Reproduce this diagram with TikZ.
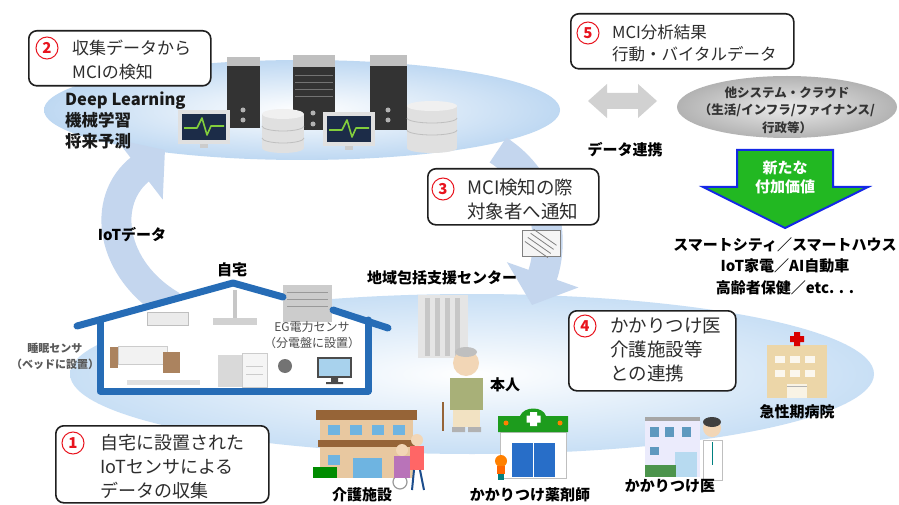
\documentclass[tikz,border=0pt]{standalone}
\usepackage{fontspec}
\setmainfont{Noto Sans CJK JP}
\usetikzlibrary{arrows.meta,shapes.geometric}
\definecolor{cloudblue}{RGB}{190,216,242}
\definecolor{groundblue}{RGB}{200,223,245}
\definecolor{flowblue}{RGB}{196,214,238}
\definecolor{roofblue}{RGB}{38,108,182}
\definecolor{inkgray}{RGB}{45,45,45}
\definecolor{leafgreen}{RGB}{34,184,34}
\definecolor{rimblue}{RGB}{20,40,230}
\definecolor{numred}{RGB}{232,20,30}
\definecolor{screennavy}{RGB}{28,44,72}
\definecolor{wavegreen}{RGB}{130,205,60}
\definecolor{skin}{RGB}{242,214,182}
\definecolor{olive}{RGB}{168,176,120}
\definecolor{brick}{RGB}{150,100,55}
\definecolor{tan}{RGB}{232,200,160}
\definecolor{winblue}{RGB}{110,180,225}
\definecolor{doorblue}{RGB}{40,110,200}
\definecolor{beige}{RGB}{236,214,168}
\newcommand{\setfs}[2]{\fontsize{#1}{#2}\selectfont}
\tikzset{
  stepcard/.style={draw=black!88, line width=1.6pt, rounded corners=8pt, fill=white, inner sep=0pt, anchor=north west},
  numdisc/.style={circle, draw=numred, line width=1pt, fill=white, text=numred, font=\bfseries\setfs{15}{15}, inner sep=0pt, minimum size=22pt},
  cardline/.style={anchor=west, align=left, text=inkgray, inner sep=0pt},
  boldlbl/.style={font=\bfseries\setfs{15}{15}, inner sep=0pt, text=black},
  flowarrow/.style={flowblue, line width=30pt, -{Triangle[width=74pt,length=32pt]}},
  roofline/.style={roofblue, line width=7pt, line join=round, line cap=round},
}
\begin{document}
\begin{tikzpicture}[x=1pt,y=-1pt]
\useasboundingbox (0,0) rectangle (899,505);
\fill[white] (0,0) rectangle (899,505);

% ground plate and data cloud
\shade[inner color=white, outer color=groundblue] (472,374) ellipse [x radius=402, y radius=80];
\shade[inner color=white, outer color=cloudblue] (302,110) ellipse [x radius=258, y radius=50];

% flow arrows between home and cloud
\draw[flowarrow] (172,306) .. controls (110,270) and (100,200) .. (165,150);
\draw[flowarrow] (498,150) .. controls (548,182) and (555,240) .. (532,305);

% notification sheet
\begin{scope}[shift={(541,243)}, rotate=-35]
  \node[draw=black!50, fill=black!4, minimum width=38pt, minimum height=26pt, inner sep=0pt] (sheet) at (0,0) {};
  \foreach \yy in {-7,-2,3,8} \draw[black!50, line width=0.8pt] (-14,\yy) -- (14,\yy);
\end{scope}

% servers in the cloud
\fill[black!80] (227,57) rectangle (260,128);
\fill[black!25] (227,57) rectangle (260,66);
\fill[black!30] (243,110) circle (2.5) (243,120) circle (2.5);
\fill[black!80] (293,55) rectangle (335,130);
\fill[black!25] (293,55) rectangle (335,67);
\foreach \yy in {75,82,89,96} \draw[black!55, line width=0.8pt] (295,\yy) -- (333,\yy);
\fill[black!30] (313,113) circle (2.5) (313,124) circle (2.5);
\fill[black!80] (370,55) rectangle (407,130);
\fill[black!25] (370,55) rectangle (407,66);
\fill[black!30] (388,110) circle (2.5) (388,120) circle (2.5);
% database stacks
\foreach \cx/\rx/\top/\bot in {283/21/114/148, 432/25/106/148}{
  \fill[black!12] (\cx-\rx,\top) rectangle (\cx+\rx,\bot);
  \fill[black!12] (\cx,\bot) ellipse [x radius=\rx, y radius=5];
  \fill[black!6] (\cx,\top) ellipse [x radius=\rx, y radius=5];
  \draw[black!25, line width=0.8pt] (\cx-\rx,\top+12) arc[start angle=180, end angle=360, x radius=\rx, y radius=-5];
  \draw[black!25, line width=0.8pt] (\cx-\rx,\top+24) arc[start angle=180, end angle=360, x radius=\rx, y radius=-5];
}
% monitors with a vital waveform
\foreach \mx/\my in {178/110, 323/112}{
  \fill[black!12] (\mx,\my) rectangle (\mx+52,\my+34);
  \fill[screennavy] (\mx+4,\my+4) rectangle (\mx+48,\my+30);
  \draw[wavegreen, line width=1.6pt, line join=round] (\mx+6,\my+18) -- (\mx+19,\my+18) -- (\mx+24,\my+8) -- (\mx+29,\my+25) -- (\mx+33,\my+16) -- (\mx+46,\my+16);
  \fill[black!20] (\mx+22,\my+34) rectangle (\mx+30,\my+38);
}

% data exchange arrow and external cloud
\fill[black!18] (588,101) -- (607,84) -- (607,93) -- (638,93) -- (638,84) -- (657,101) -- (638,118) -- (638,109) -- (607,109) -- (607,118) -- cycle;
\shade[inner color=black!8, outer color=black!30] (787,107) ellipse [x radius=110, y radius=31];
\node[font=\bfseries\setfs{12.5}{17.5}, text=black!80, align=center, inner sep=0pt] (extcloud) at (787,110) {他システム・クラウド\\（生活/インフラ/ファイナンス/\\行政等）};
\node[boldlbl] (linklbl) at (625,150) {データ連携};

% new value arrow
\draw[rimblue, line width=2pt, fill=leafgreen, line join=miter] (737,150) -- (833,150) -- (833,187) -- (868,187) -- (785,228) -- (703,187) -- (737,187) -- cycle;
\node[font=\bfseries\setfs{15}{19}, text=white, align=center, inner sep=0pt] (newval) at (785,177) {新たな\\付加価値};
\node[font=\bfseries\setfs{15}{21.5}, align=center, inner sep=0pt] (usecases) at (785,266) {スマートシティ／スマートハウス\\IoT家電／AI自動車\\高齢者保健／etc. . .};

% home
\fill[white] (100,318) -- (233,287) -- (283,300) -- (366,322) -- (366,391) -- (100,391) -- cycle;
\fill[black!8] (147,312) rectangle (188,325);
\draw[black!25] (147,312) rectangle (188,325);
\fill[black!22] (233,290) rectangle (237,318);
\fill[black!18] (213,318) rectangle (257,325);
% bed
\fill[black!12] (127,380) rectangle (200,385);
\fill[black!5] (118,346) rectangle (167,364);
\draw[black!20] (118,346) rectangle (167,364);
\fill[brick!80] (110,347) rectangle (118,368);
\fill[brick!80] (163,352) rectangle (180,373);
% appliances
\fill[black!15] (218,355) rectangle (242,387);
\fill[black!4] (242,353) rectangle (267,387);
\draw[black!20] (242,353) rectangle (267,387) (246,366) -- (263,366) (246,374) -- (263,374);
\fill[black!20] (283,285) rectangle (332,322);
\foreach \yy in {292,299,306} \draw[black!40, line width=0.8pt] (287,\yy) -- (328,\yy);
\fill[black!55] (285,366) circle (7);
\fill[black!70] (317,357) rectangle (352,378);
\fill[winblue!60] (319,359) rectangle (350,376);
\fill[black!70] (331,378) rectangle (338,382) (326,382) rectangle (343,384);
% house frame
\draw[roofline] (77,326) -- (233,283) -- (283,297);
\draw[roofline] (333,310) -- (388,328);
\draw[roofline] (100,322) -- (100,391) -- (368,391) -- (368,320);
\node[boldlbl] (homelbl) at (232,270) {自宅};
\node[font=\setfs{12}{16}, text=black!70, align=center, inner sep=0pt] (eglbl) at (312,335) {EG電力センサ\\（分電盤に設置）};
\node[font=\bfseries\setfs{11}{16}, text=black!65, align=center, inner sep=0pt] (sleeplbl) at (55,356) {睡眠センサ\\（ベッドに設置）};

% community support center
\fill[black!10] (418,295) rectangle (468,358);
\foreach \xx in {425,435,445,455} \fill[black!22] (\xx,298) rectangle (\xx+5,356);
\node[boldlbl] (centerlbl) at (442,278) {地域包括支援センター};

% the person
\draw[brick, line width=2pt] (443,402) -- (443,431);
\fill[olive] (450,378) rectangle (483,410);
\fill[beige!70] (453,410) rectangle (480,427);
\fill[black!30] (452,427) rectangle (465,432) (468,427) rectangle (481,432);
\fill[skin] (466,363) circle (13);
\fill[black!25] (466,352) ellipse [x radius=11, y radius=5];
\node[boldlbl] (selflbl) at (505,385) {本人};

% care facility
\fill[tan] (320,420) rectangle (413,478);
\fill[brick] (316,410) rectangle (417,420);
\fill[brick] (318,440) rectangle (415,447);
\foreach \xx in {328,350,372,393} \fill[winblue] (\xx,425) rectangle (\xx+12,435);
\fill[winblue] (328,455) rectangle (340,465);
\fill[winblue] (353,458) rectangle (382,478);
\fill[green!55!black] (313,467) rectangle (337,478);
\draw[black!40, line width=1.2pt] (400,482) circle (7);
\fill[violet!55] (394,456) rectangle (410,478);
\fill[skin] (402,450) circle (6);
\fill[red!60] (410,446) rectangle (424,470);
\fill[skin] (417,440) circle (6);
\draw[doorblue!70!black, line width=2pt] (414,470) -- (412,490) (420,470) -- (424,490);
\node[boldlbl] (carelbl) at (362,495) {介護施設};

% pharmacy
\fill[white] (500,432) rectangle (566,478);
\draw[black!25] (500,432) rectangle (566,478);
\fill[doorblue] (512,443) rectangle (555,477);
\draw[white, line width=1pt] (533.5,443) -- (533.5,477);
\fill[leafgreen!85!black] (498,432) -- (498,416) -- (520,416) .. controls (524,406) and (543,406) .. (546,416) -- (568,416) -- (568,432) -- cycle;
\fill[white] (530,412) rectangle (537,426) (526.5,415.5) rectangle (540.5,422.5);
\fill[orange] (506,423) circle (2.5) (560,423) circle (2.5);
\fill[orange] (501,461) circle (6);
\fill[orange!80!red] (497,466) rectangle (505,474);
\fill[teal] (498,474) rectangle (504,480);
\node[boldlbl] (pharmlbl) at (530,495) {かかりつけ薬剤師};

% family clinic
\fill[black!12!blue!8] (645,417) rectangle (700,477);
\fill[black!35] (645,417) rectangle (700,421);
\foreach \xx in {650,665,682} \fill[winblue!85!black] (\xx,427) rectangle (\xx+9,437);
\fill[winblue!85!black] (650,447) rectangle (659,455);
\fill[winblue!50] (675,452) rectangle (697,477);
\fill[green!40!black!70] (645,465) rectangle (676,477);
\fill[white] (703,440) rectangle (722,480);
\draw[black!25] (703,440) rectangle (722,480);
\draw[teal, line width=1pt] (712,442) -- (712,465);
\fill[skin] (712,428) circle (9);
\fill[black!75] (712,422) ellipse [x radius=9, y radius=5];
\node[boldlbl] (doclbl) at (670,486) {かかりつけ医};

% acute-care hospital
\fill[beige] (767,345) rectangle (827,398);
\foreach \yy in {356,370} \foreach \xx in {775,790,805} \fill[white!80!beige] (\xx,\yy) rectangle (\xx+10,\yy+7);
\fill[white!70!beige] (787,384) rectangle (807,398);
\draw[black!30] (787,386) -- (807,386);
\fill[red!85!black] (794,332) rectangle (800,346) (790,336) rectangle (804,342);
\node[boldlbl] (hosplbl) at (797,412) {急性期病院};

% deep learning caption
\node[font=\bfseries\setfs{16.5}{21}, align=left, anchor=west, inner sep=0pt, text=black!90] (dllbl) at (65,120) {Deep Learning\\機械学習\\将来予測};
\node[boldlbl] (iotlbl) at (132,235) {IoTデータ};

% numbered step cards
\node[stepcard, minimum width=182pt, minimum height=55pt] (card2) at (28,30) {};
\node[numdisc] (n2) at (47,48) {2};
\node[cardline, font=\setfs{17}{24.5}] (c2) at (72,60) {収集データから\\MCIの検知};

\node[stepcard, minimum width=223pt, minimum height=55pt] (card5) at (570,13) {};
\node[numdisc] (n5) at (588,33) {5};
\node[cardline, font=\setfs{16.5}{21.5}] (c5) at (612,43.5) {MCI分析結果\\行動・バイタルデータ};

\node[stepcard, minimum width=171pt, minimum height=56pt] (card3) at (427,168) {};
\node[numdisc] (n3) at (443,189) {3};
\node[cardline, font=\setfs{18.5}{23.5}] (c3) at (467,199.5) {MCI検知の際\\対象者へ通知};

\node[stepcard, minimum width=167pt, minimum height=80pt] (card4) at (568,310) {};
\node[numdisc] (n4) at (585,326) {4};
\node[cardline, font=\setfs{18.5}{24}] (c4) at (610,350) {かかりつけ医\\介護施設等\\との連携};

\node[stepcard, minimum width=213pt, minimum height=77pt] (card1) at (55,425) {};
\node[numdisc] (n1) at (73,443) {1};
\node[cardline, font=\setfs{18}{24}] (c1) at (100,467) {自宅に設置された\\IoTセンサによる\\データの収集};
\end{tikzpicture}
\end{document}
